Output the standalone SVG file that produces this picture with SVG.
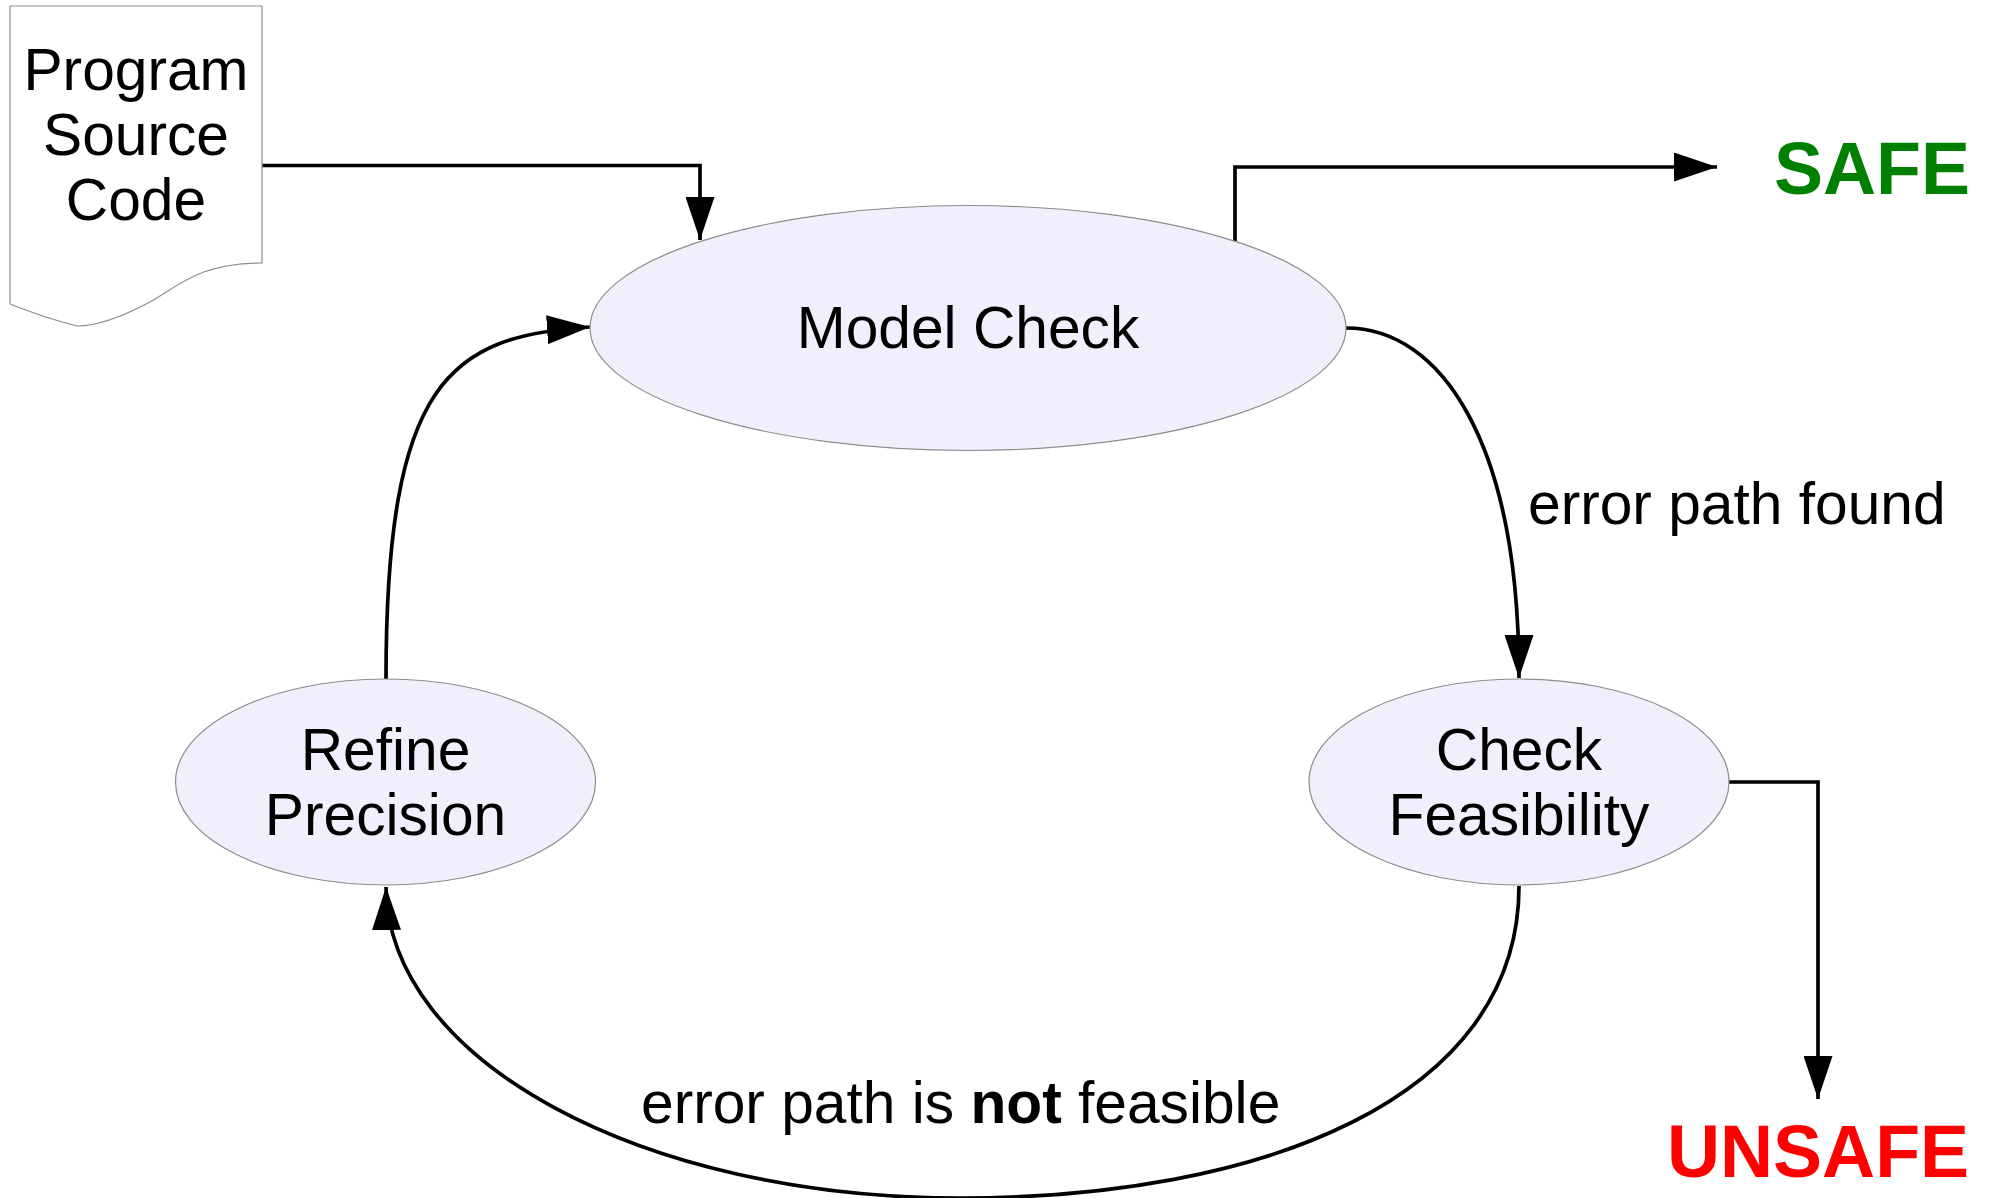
<svg xmlns="http://www.w3.org/2000/svg" width="1995" height="1198" viewBox="0 0 1995 1198">
<style>
.node{fill:#f0f0fd;stroke:#8c8c8c;stroke-width:1.2}
.doc{fill:#ffffff;stroke:#8c8c8c;stroke-width:1.2}
.lbl{font-family:"Liberation Sans",Arial,sans-serif;font-size:58.7px;fill:#000}
.mid{text-anchor:middle}
.big{font-family:"Liberation Sans",Arial,sans-serif;font-size:73.5px;font-weight:bold}
.conn path{fill:none;stroke:#000;stroke-width:3.7}
</style>
<defs>
<marker id="arr" markerUnits="userSpaceOnUse" markerWidth="43" markerHeight="29" refX="43" refY="14.5" orient="auto" viewBox="0 0 43 29">
<path d="M0,0 L43,14.5 L0,29 Z" fill="#000"/>
</marker>
</defs>
<rect width="1995" height="1198" fill="#ffffff"/>
<g class="conn" id="connectors">
<path d="M262,165.5 H700 V240" marker-end="url(#arr)"/>
<path d="M1235,241 V167 H1717" marker-end="url(#arr)"/>
<path d="M1346,328 C1440,328 1519,440 1519,678" marker-end="url(#arr)"/>
<path d="M1729,782 H1818 V1099" marker-end="url(#arr)"/>
<path d="M1519,886 C1519,1100 1260,1198 960,1198 C640,1198 388,1060 386,887" marker-end="url(#arr)"/>
<path d="M386,679 C386,380 450,336 590,327" marker-end="url(#arr)"/>
</g>
<g id="node-source">
<path class="doc" d="M10,6 H262 V263 C200,263 180,285 150,302 C120,318 95,326 77,326 Q45,318 10,304 Z"/>
<text class="lbl mid" x="136" y="90">Program</text>
<text class="lbl mid" x="136" y="155">Source</text>
<text class="lbl mid" x="136" y="220">Code</text>
</g>
<g id="node-model-check">
<ellipse class="node" cx="968" cy="328" rx="378" ry="122.5"/>
<text class="lbl mid" x="968" y="348">Model Check</text>
</g>
<g id="node-check-feasibility">
<ellipse class="node" cx="1519" cy="782" rx="210" ry="103"/>
<text class="lbl mid" x="1519" y="770">Check</text>
<text class="lbl mid" x="1519" y="835">Feasibility</text>
</g>
<g id="node-refine-precision">
<ellipse class="node" cx="385.5" cy="782" rx="210" ry="103"/>
<text class="lbl mid" x="385.5" y="770">Refine</text>
<text class="lbl mid" x="385.5" y="835">Precision</text>
</g>
<g id="node-safe">
<text class="big" x="1774" y="194" fill="#008000">SAFE</text>
</g>
<g id="node-unsafe">
<text class="big mid" x="1818" y="1177" fill="#ff0000">UNSAFE</text>
</g>
<g id="labels">
<text class="lbl" x="1528" y="524">error path found</text>
<text class="lbl" x="641" y="1123">error path is <tspan font-weight="bold">not</tspan> feasible</text>
</g>
</svg>
